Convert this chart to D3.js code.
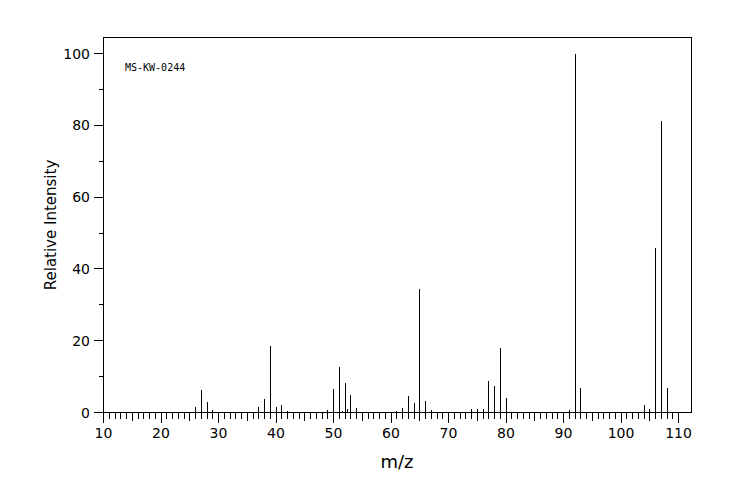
<!DOCTYPE html>
<html>
<head>
<meta charset="utf-8">
<script src="https://cdn.jsdelivr.net/npm/d3@7/dist/d3.min.js"></script>
<style>
  html, body { margin: 0; padding: 0; background: #fff; }
  svg { display: block; }
  text { font-family: "DejaVu Sans", sans-serif; fill: #000; }
  text.mono { font-family: "DejaVu Sans Mono", monospace; }
</style>
</head>
<body>
<svg id="chart" width="744" height="500"></svg>
<script>
// ---- data ----
const mz = [15, 26, 27, 28, 29, 31, 36, 37, 37.5, 38, 38.5, 39, 40, 41, 42, 45.5, 46, 49, 50, 51, 51.5, 52, 52.5, 53, 54, 55,
            60, 61, 62, 63, 64, 65, 66, 67, 68, 73, 74, 75, 76, 77, 78, 79, 80, 81, 91, 92, 93, 94, 102, 104, 105, 106, 107, 108, 109];
const intensity = [0.3, 1.7, 6.4, 3.1, 0.8, 0.3, 0.4, 1.7, 0.4, 3.9, 0.4, 18.7, 1.7, 2.2, 0.6, 0.3, 0.3, 0.8, 6.7, 12.8, 0.5, 8.4, 1.1, 5.0, 1.4, 0.3,
            0.3, 0.6, 1.4, 4.7, 2.8, 34.6, 3.3, 0.8, 0.3, 0.3, 1.1, 1.1, 1.1, 8.9, 7.5, 18.2, 4.3, 0.4, 0.8, 100, 7.1, 0.4, 0.3, 2.3, 1.1, 46.0, 81.4, 7.1, 0.4];
const xTickLabels = [10, 20, 30, 40, 50, 60, 70, 80, 90, 100, 110];
const yTickLabels = [0, 20, 40, 60, 80, 100];
const sampleLabel = "MS-KW-0244";
const xTitle = "m/z";
const yTitle = "Relative Intensity";

// ---- layout ----
const svg = d3.select("#chart");
const x = d3.scaleLinear().domain([10, 110]).range([103.5, 678.5]);
const y = d3.scaleLinear().domain([0, 100]).range([412.5, 53.5]);
const frame = { left: 103.5, right: 691.5, top: 37.5, bottom: 412.5 };

const g = svg.append("g").attr("shape-rendering", "crispEdges");

// frame
g.append("rect")
  .attr("x", frame.left).attr("y", frame.top)
  .attr("width", frame.right - frame.left).attr("height", frame.bottom - frame.top)
  .attr("fill", "none").attr("stroke", "#000").attr("stroke-width", 1);

// x ticks (every 1 unit)
const xMinor = d3.range(10, 111, 1);
g.selectAll("line.xt").data(xMinor).enter().append("line")
  .attr("x1", d => Math.round(x(d) - 0.5) + 0.5).attr("x2", d => Math.round(x(d) - 0.5) + 0.5)
  .attr("y1", frame.bottom)
  .attr("y2", d => frame.bottom + (d % 10 === 0 ? 10 : d % 5 === 0 ? 8 : 6))
  .attr("stroke", "#000");

// y ticks (every 10 units)
const yMinor = d3.range(0, 101, 10);
g.selectAll("line.yt").data(yMinor).enter().append("line")
  .attr("y1", d => Math.round(y(d) - 0.5) + 0.5).attr("y2", d => Math.round(y(d) - 0.5) + 0.5)
  .attr("x1", frame.left)
  .attr("x2", d => frame.left - (d % 20 === 0 ? 10 : 5))
  .attr("stroke", "#000");

// peaks
g.selectAll("line.peak").data(mz.map((m, i) => ({ m, v: intensity[i] }))).enter().append("line")
  .attr("x1", d => Math.round(x(d.m) - 0.5) + 0.5).attr("x2", d => Math.round(x(d.m) - 0.5) + 0.5)
  .attr("y1", frame.bottom)
  .attr("y2", d => Math.round(y(d.v) - 0.5) + 0.5)
  .attr("stroke", "#000");

// tick labels
svg.selectAll("text.xl").data(xTickLabels).enter().append("text")
  .attr("x", d => x(d)).attr("y", 438)
  .attr("text-anchor", "middle").attr("font-size", 14)
  .text(d => d);

svg.selectAll("text.yl").data(yTickLabels).enter().append("text")
  .attr("x", 90).attr("y", d => y(d)).attr("dy", "0.36em")
  .attr("text-anchor", "end").attr("font-size", 14)
  .text(d => d);

// titles
svg.append("text").attr("x", 397).attr("y", 468)
  .attr("text-anchor", "middle").attr("font-size", 18).text(xTitle);

svg.append("text")
  .attr("transform", "translate(56,225) rotate(-90)")
  .attr("text-anchor", "middle").attr("font-size", 15).text(yTitle);

svg.append("text").attr("class", "mono").attr("x", 125).attr("y", 71)
  .attr("font-size", 10)
  .text(sampleLabel);
</script>
</body>
</html>
